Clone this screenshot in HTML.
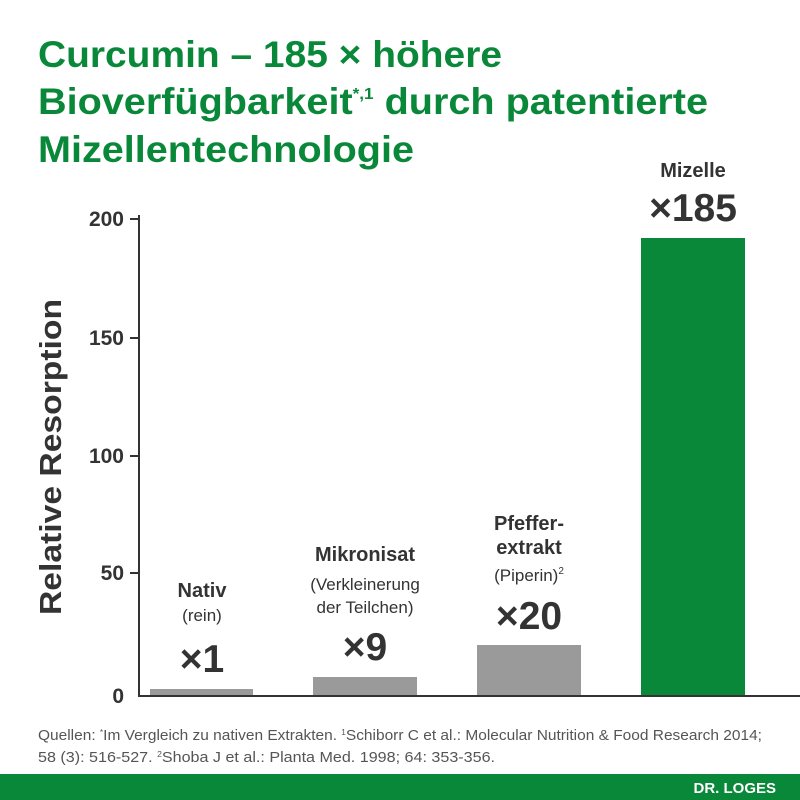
<!DOCTYPE html>
<html><head><meta charset="utf-8"><style>
html,body{margin:0;padding:0;background:#fff;}
svg{display:block;font-family:"Liberation Sans",sans-serif;}
</style></head><body>
<svg width="800" height="800" viewBox="0 0 800 800">
<rect width="800" height="800" fill="#fff"/>
<g fill="#0a883a" font-weight="bold" font-size="37">
<text x="38" y="67" textLength="464" lengthAdjust="spacingAndGlyphs">Curcumin – 185 × höhere</text>
<text x="38" y="114" textLength="670" lengthAdjust="spacingAndGlyphs">Bioverfügbarkeit<tspan font-size="16" dy="-15">*,1</tspan><tspan dy="15"> durch patentierte</tspan></text>
<text x="38" y="162" textLength="376" lengthAdjust="spacingAndGlyphs">Mizellentechnologie</text>
</g>
<g fill="#333" font-weight="bold" font-size="21" text-anchor="end">
<text x="124" y="226">200</text>
<text x="124" y="345">150</text>
<text x="124" y="463">100</text>
<text x="124" y="580">50</text>
<text x="124" y="703">0</text>
</g>
<g stroke="#333" stroke-width="2">
<line x1="139" y1="215" x2="139" y2="696"/>
<line x1="138" y1="696" x2="800" y2="696"/>
<line x1="130" y1="219" x2="139" y2="219"/>
<line x1="130" y1="338" x2="139" y2="338"/>
<line x1="130" y1="456" x2="139" y2="456"/>
<line x1="130" y1="573" x2="139" y2="573"/>
</g>
<text transform="translate(61,457) rotate(-90)" text-anchor="middle" fill="#333" font-weight="bold" font-size="31" textLength="316" lengthAdjust="spacingAndGlyphs">Relative Resorption</text>
<rect x="150" y="689" width="103" height="6" fill="#9a9a9a"/>
<rect x="313" y="677" width="104" height="18" fill="#9a9a9a"/>
<rect x="477" y="645" width="104" height="50" fill="#9a9a9a"/>
<rect x="641" y="238" width="104" height="457" fill="#0a883a"/>
<g fill="#333" text-anchor="middle">
<text x="693" y="177" font-weight="bold" font-size="20">Mizelle</text>
<text x="693" y="221" font-weight="bold" font-size="39">×185</text>
<text x="202" y="597" font-weight="bold" font-size="20">Nativ</text>
<text x="202" y="621" font-size="17">(rein)</text>
<text x="202" y="672" font-weight="bold" font-size="39">×1</text>
<text x="365" y="561" font-weight="bold" font-size="20">Mikronisat</text>
<text x="365" y="590" font-size="17">(Verkleinerung</text>
<text x="365" y="613" font-size="17">der Teilchen)</text>
<text x="365" y="660" font-weight="bold" font-size="39">×9</text>
<text x="529" y="530" font-weight="bold" font-size="20">Pfeffer-</text>
<text x="529" y="554" font-weight="bold" font-size="20">extrakt</text>
<text x="529" y="581" font-size="17">(Piperin)<tspan font-size="10" dy="-7">2</tspan></text>
<text x="529" y="629" font-weight="bold" font-size="39">×20</text>
</g>
<g fill="#555" font-size="15">
<text x="38" y="740" textLength="724" lengthAdjust="spacingAndGlyphs">Quellen: <tspan font-size="8" dy="-5">*</tspan><tspan dy="5">Im Vergleich zu nativen Extrakten. </tspan><tspan font-size="8" dy="-5">1</tspan><tspan dy="5">Schiborr C et al.: Molecular Nutrition &amp; Food Research 2014;</tspan></text>
<text x="38" y="762" textLength="457" lengthAdjust="spacingAndGlyphs">58 (3): 516-527. <tspan font-size="8" dy="-5">2</tspan><tspan dy="5">Shoba J et al.: Planta Med. 1998; 64: 353-356.</tspan></text>
</g>
<rect x="0" y="774" width="800" height="26" fill="#0a883a"/>
<text x="776" y="793" text-anchor="end" fill="#fff" font-weight="bold" font-size="15">DR. LOGES</text>
</svg>
</body></html>
